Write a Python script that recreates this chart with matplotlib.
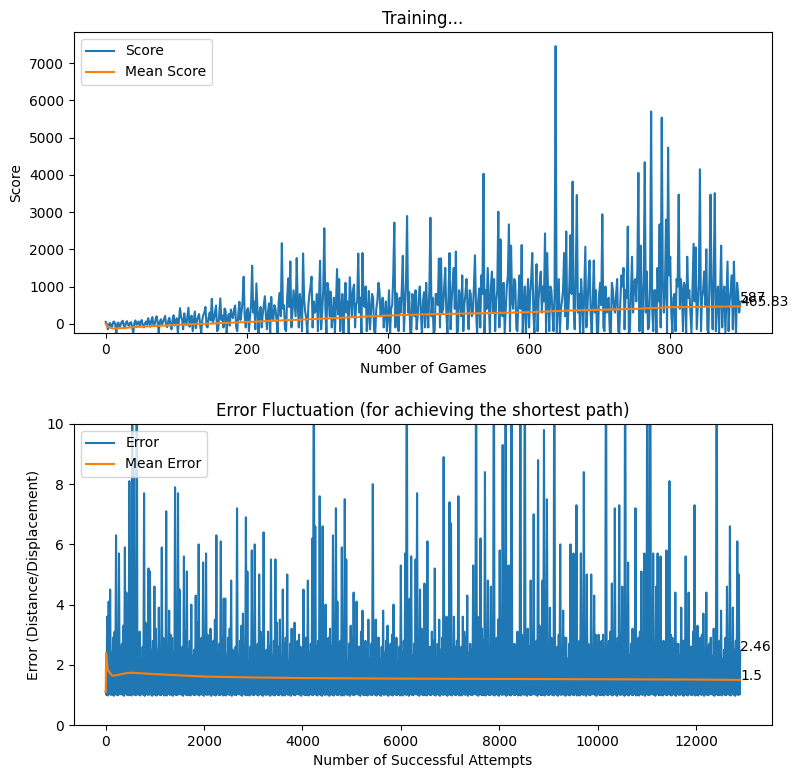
import numpy as np
import matplotlib
matplotlib.use("Agg")
import matplotlib.pyplot as plt

# Score per game (one value every ~3 games)
scores = [
    50, -150, 20, -80, 60, -250, 30, -40, 80, -120,
    70, -60, 40, -250, 90, 10, -50, 100, -100, 60,
    150, -80, 180, -30, 200, -250, 120, 40, 210, -90,
    160, -150, 225, 60, -250, 420, 100, 280, -40, 430,
    150, -200, 330, 80, 260, -250, 240, 450, -100, 300,
    670, 120, 490, -150, 680, 220, 410, -250, 260, 380,
    150, 490, -200, 590, 300, 1264, -100, 420, 200, 1558,
    600, 1084, -250, 450, 260, 739, -150, 550, 720, 120,
    400, -250, 830, 2164, 500, -200, 1220, 1674, 300, 560,
    1764, -100, 480, 1889, 320, -250, 800, 1265, 600, 350,
    -200, 1692, 300, 2565, -300, 880, 860, 250, -250, 1470,
    1200, 400, -250, 1100, 600, 1250, 200, 1050, 500, 1886,
    700, 1900, 450, -200, 880, 300, 700, -250, 600, 900,
    400, -100, 600, 200, -250, 500, 2717, 820, -200, 300,
    1826, 400, 2895, 850, -250, 600, 900, 200, 1000, -300,
    850, 1100, -100, 2850, 700, -200, 800, 1755, 1760, 400,
    1500, -250, 1900, 600, 1500, 1940, -200, 700, 1300, 500,
    1200, -150, 800, 300, 1840, -300, 950, 1300, 4030, 900,
    1500, -250, 1400, 1200, 600, 3010, 2270, 200, -250, 1000,
    2670, 2100, 400, 1100, -200, 1300, 2115, 500, -300, 1200,
    800, 1900, -250, 1600, 700, 1400, 1000, 2427, 1900, -200,
    900, -200, 7460, 500, -250, 600, 1900, 2480, 300, 2380,
    3820, -150, 3460, 800, 1200, -250, 2070, 400, 1700, -300,
    1700, 900, -250, 1100, 2940, -200, 300, 700, -300, 900,
    300, 1200, -250, 1300, 1500, 900, 2610, -200, 1800, 1100,
    600, 4055, 2100, -250, 4340, 1400, -100, 5704, -200, 900,
    1500, 2670, 5540, 300, 2800, 4730, 1800, -250, 800, 1200,
    3470, 1200, -200, 1000, 1800, 900, -250, 2150, 2050, 500,
    4150, 700, 1400, 2000, -250, 3470, -150, 3510, 700, -250,
    2100, 800, -250, 1670, 600, 1300, 1670, -300, 800, 587,
]
# scores of the games in between the ones above
scores_mid = [
    0, -30, -60, 40, -20, 10, -90, 50, -40, 20,
    -20, 30, -100, 20, -30, 60, 40, -60, 10, -30,
    40, 90, -50, 110, 20, 60, -20, 130, -60, 80,
    -30, 100, -50, 150, 70, 200, -150, 60, 190, -80,
    220, 60, -120, 180, -40, 100, 300, -60, 170, 90,
    40, 300, -200, 250, 100, -100, 350, 150, -50, 200,
    400, -100, 280, 100, 600, 200, 350, -200, 500, 300,
    -150, 400, 300, -100, 500, 200, 350, -250, 150, 500,
    100, 600, 200, 400, -150, 700, 450, -100, 900, 200,
    500, 800, -200, 650, 150, 500, 1000, -100, 300, 800,
    600, -150, 900, 400, 1100, 200, -100, 700, 500, 250,
    -200, 800, 500, 300, -250, 700, 900, -100, 600, 300,
    -250, 500, 1000, 300, -150, 800, -200, 400, 1100, 200,
    700, 300, -200, 900, 400, 1300, -100, 500, 700, 900,
    -200, 1100, 300, -250, 800, 200, -150, 700, 300, 600,
    -100, 400, 900, 200, -250, 800, 500, -100, 300, 1000,
    300, 700, -150, 1100, 400, -250, 900, 200, -200, 800,
    400, 900, 200, 1000, 400, 600, -100, 800, -250, 400,
    600, 1000, 300, -200, 900, -100, 500, 1100, 400, 1300,
    -200, 600, 1200, -150, 700, 400, -250, 1000, 600, -100,
    1200, 300, 800, -200, 1100, 300, 600, -250, 700, 1000,
    300, 800, -250, 1200, 400, 900, 200, -150, 1100, 800,
    400, 1300, 300, -250, 700, 900, -100, 1200, 300, 600,
    300, -250, 800, 500, -100, 1000, 600, -200, 1100, 400,
    800, -200, 600, 1000, -150, 700, -250, 800, 300, 1200,
    1400, -200, 800, 1100, 300, -150, 1000, 400, 900, -250,
    600, -100, 1200, 900, -250, 1300, 300, 700, -200, 1000,
    400, 900, 1100, -250, 700, 300, 1000, 600, -150, 1100,
    -200, 900, 500, -150, 1200, 800, 1300, -200, 1000, 800,
    -100, 1000, 700, -200, 900, -150, 600, 1100, 300,
]
last_game = 899

# mean score, read at a few games
mean_games = [0, 3, 10, 25, 50, 100, 150, 200, 250, 300, 350, 400, 450,
              500, 550, 600, 650, 700, 750, 800, 850, 899]
mean_scores = [0, -90, -130, -115, -80, -30, 5, 45, 90, 130, 175, 220, 250,
               270, 290, 310, 350, 375, 400, 444, 455, 465.83]

# Error: upper values, one every 30 successful attempts
err_peaks = [
    1.1, 3.6, 4.1, 4.5, 2.4, 2.9, 3.1, 6.3, 2.2, 5.7,
    2.6, 2.7, 3.3, 5.9, 4.4, 2.1, 8.1, 2.8, 15, 8.6,
    2.3, 15, 3.0, 3.1, 2.2, 2.6, 7.7, 3.4, 2.4, 5.2,
    5.1, 2.5, 2.8, 4.6, 3.2, 2.5, 3.9, 2.1, 5.9, 2.9,
    2.7, 7.1, 2.3, 3.8, 3.0, 2.9, 2.4, 7.9, 3.3, 7.7,
    4.5, 2.2, 2.6, 5.6, 3.1, 5.1, 2.5, 2.8, 4.0, 2.3,
    2.5, 4.3, 3.4, 6.0, 2.2, 2.9, 5.4, 2.6, 5.7, 3.0,
    2.6, 3.2, 2.1, 2.8, 3.5, 6.3, 2.4, 2.7, 6.1, 2.9,
    4.2, 4.2, 2.3, 2.9, 3.2, 4.8, 2.5, 2.4, 2.6, 7.2,
    2.2, 2.8, 3.3, 3.7, 2.6, 6.9, 5.1, 2.1, 2.6, 5.8,
    2.9, 6.0, 2.4, 2.7, 5.0, 3.1, 2.9, 6.4, 2.2, 2.5,
    3.1, 2.6, 5.5, 2.3, 2.8, 5.5, 3.4, 2.6, 3.5, 2.2,
    4.5, 2.7, 2.9, 5.0, 2.1, 2.7, 3.2, 2.5, 3.4, 2.3,
    2.8, 3.0, 2.6, 2.2, 4.5, 2.9, 2.9, 4.8, 2.4, 2.7,
    6.2, 15, 6.6, 2.6, 2.8, 7.6, 3.3, 6.6, 2.5, 4.0,
    2.3, 2.9, 3.2, 2.6, 6.3, 2.2, 7.2, 4.1, 2.7, 2.8,
    5.9, 2.4, 7.5, 5.5, 2.1, 2.7, 3.3, 2.9, 4.4, 2.5,
    4.1, 2.6, 2.6, 3.1, 3.8, 2.3, 2.8, 2.5, 3.5, 2.2,
    2.7, 8.0, 2.4, 3.5, 2.9, 2.9, 2.2, 2.6, 3.8, 2.4,
    2.8, 3.3, 2.3, 2.7, 3.0, 4.0, 2.5, 2.9, 2.1, 2.6,
    5.3, 2.4, 2.8, 5.7, 15, 3.0, 4.2, 5.6, 2.3, 2.7,
    5.5, 7.7, 2.5, 4.5, 3.2, 2.9, 4.7, 2.4, 6.1, 2.6,
    2.6, 3.1, 2.8, 5.2, 2.2, 2.7, 3.5, 2.5, 2.9, 8.9,
    2.4, 3.6, 3.0, 7.4, 6.7, 2.3, 3.6, 2.6, 2.8, 7.6,
    2.2, 2.6, 3.6, 3.1, 2.9, 4.3, 2.4, 2.7, 2.5, 5.3,
    2.8, 15, 3.6, 2.3, 6.2, 3.2, 2.8, 8.4, 2.6, 4.8,
    2.4, 4.6, 3.0, 15, 2.5, 2.9, 3.5, 5.8, 2.2, 9.3,
    2.7, 15, 2.4, 5.3, 3.1, 15, 2.6, 2.7, 2.3, 3.1,
    2.5, 15, 3.0, 2.9, 15, 2.4, 3.2, 2.6, 4.8, 2.2,
    7.0, 2.7, 2.8, 8.8, 3.3, 2.6, 4.8, 9.8, 2.4, 7.5,
    2.3, 3.9, 2.9, 2.7, 15, 2.5, 2.6, 3.0, 6.0, 2.4,
    3.8, 2.9, 2.9, 2.2, 2.7, 6.0, 2.6, 5.7, 2.3, 7.3,
    2.5, 2.8, 5.7, 3.1, 8.4, 2.4, 5.0, 2.7, 2.6, 5.0,
    2.2, 4.3, 3.0, 2.7, 3.0, 2.5, 2.8, 3.0, 2.3, 15,
    2.6, 2.8, 3.1, 4.7, 2.4, 7.2, 2.7, 2.9, 7.3, 2.2,
    4.6, 2.5, 15, 2.9, 5.4, 2.3, 2.7, 3.2, 2.6, 7.2,
    2.4, 2.9, 3.1, 5.1, 2.5, 5.7, 2.8, 15, 3.0, 15,
    2.3, 5.7, 2.6, 4.6, 5.7, 2.9, 5.6, 2.4, 2.8, 2.6,
    5.8, 2.2, 8.1, 3.0, 2.9, 2.5, 4.4, 2.7, 2.7, 2.3,
    3.9, 2.8, 2.8, 5.6, 2.4, 4.4, 2.6, 2.6, 3.1, 7.3,
    2.5, 3.3, 2.4, 2.9, 3.0, 3.7, 2.3, 4.4, 2.6, 2.7,
    2.9, 2.3, 3.2, 2.6, 15, 2.4, 2.8, 3.8, 2.2, 2.5,
    2.9, 4.6, 2.4, 6.6, 2.7, 3.9, 2.5, 2.8, 6.1, 5.0,
    2.46,
]
# Error: lower values in between (the floor of the band, near 1)
err_floor = [
    1.0, 0.98, 1.03, 1.0, 1.01, 0.97, 1.02, 1.0, 0.99, 1.04,
    1.02, 1.0, 0.97, 1.05, 1.0, 0.99, 1.01, 0.98, 1.03, 1.0,
    0.99, 1.03, 1.0, 0.98, 1.06, 1.0, 0.97, 1.02, 1.0, 1.01,
    1.01, 0.97, 1.02, 1.0, 0.98, 1.04, 1.0, 0.99, 1.03, 0.98,
    1.0, 0.98, 1.03, 1.0, 1.01, 0.97, 1.02, 1.0, 0.99, 1.04,
    1.02, 1.0, 0.97, 1.05, 1.0, 0.99, 1.01, 0.98, 1.03, 1.0,
    0.99, 1.03, 1.0, 0.98, 1.06, 1.0, 0.97, 1.02, 1.0, 1.01,
    1.01, 0.97, 1.02, 1.0, 0.98, 1.04, 1.0, 0.99, 1.03, 0.98,
    1.0, 0.98, 1.03, 1.0, 1.01, 0.97, 1.02, 1.0, 0.99, 1.04,
    1.02, 1.0, 0.97, 1.05, 1.0, 0.99, 1.01, 0.98, 1.03, 1.0,
    0.99, 1.03, 1.0, 0.98, 1.06, 1.0, 0.97, 1.02, 1.0, 1.01,
    1.01, 0.97, 1.02, 1.0, 0.98, 1.04, 1.0, 0.99, 1.03, 0.98,
    1.0, 0.98, 1.03, 1.0, 1.01, 0.97, 1.02, 1.0, 0.99, 1.04,
    1.02, 1.0, 0.97, 1.05, 1.0, 0.99, 1.01, 0.98, 1.03, 1.0,
    0.99, 1.03, 1.0, 0.98, 1.06, 1.0, 0.97, 1.02, 1.0, 1.01,
    1.01, 0.97, 1.02, 1.0, 0.98, 1.04, 1.0, 0.99, 1.03, 0.98,
    1.0, 0.98, 1.03, 1.0, 1.01, 0.97, 1.02, 1.0, 0.99, 1.04,
    1.02, 1.0, 0.97, 1.05, 1.0, 0.99, 1.01, 0.98, 1.03, 1.0,
    0.99, 1.03, 1.0, 0.98, 1.06, 1.0, 0.97, 1.02, 1.0, 1.01,
    1.01, 0.97, 1.02, 1.0, 0.98, 1.04, 1.0, 0.99, 1.03, 0.98,
    1.0, 0.98, 1.03, 1.0, 1.01, 0.97, 1.02, 1.0, 0.99, 1.04,
    1.02, 1.0, 0.97, 1.05, 1.0, 0.99, 1.01, 0.98, 1.03, 1.0,
    0.99, 1.03, 1.0, 0.98, 1.06, 1.0, 0.97, 1.02, 1.0, 1.01,
    1.01, 0.97, 1.02, 1.0, 0.98, 1.04, 1.0, 0.99, 1.03, 0.98,
    1.0, 0.98, 1.03, 1.0, 1.01, 0.97, 1.02, 1.0, 0.99, 1.04,
    1.02, 1.0, 0.97, 1.05, 1.0, 0.99, 1.01, 0.98, 1.03, 1.0,
    0.99, 1.03, 1.0, 0.98, 1.06, 1.0, 0.97, 1.02, 1.0, 1.01,
    1.01, 0.97, 1.02, 1.0, 0.98, 1.04, 1.0, 0.99, 1.03, 0.98,
    1.0, 0.98, 1.03, 1.0, 1.01, 0.97, 1.02, 1.0, 0.99, 1.04,
    1.02, 1.0, 0.97, 1.05, 1.0, 0.99, 1.01, 0.98, 1.03, 1.0,
    0.99, 1.03, 1.0, 0.98, 1.06, 1.0, 0.97, 1.02, 1.0, 1.01,
    1.01, 0.97, 1.02, 1.0, 0.98, 1.04, 1.0, 0.99, 1.03, 0.98,
    1.0, 0.98, 1.03, 1.0, 1.01, 0.97, 1.02, 1.0, 0.99, 1.04,
    1.02, 1.0, 0.97, 1.05, 1.0, 0.99, 1.01, 0.98, 1.03, 1.0,
    0.99, 1.03, 1.0, 0.98, 1.06, 1.0, 0.97, 1.02, 1.0, 1.01,
    1.01, 0.97, 1.02, 1.0, 0.98, 1.04, 1.0, 0.99, 1.03, 0.98,
    1.0, 0.98, 1.03, 1.0, 1.01, 0.97, 1.02, 1.0, 0.99, 1.04,
    1.02, 1.0, 0.97, 1.05, 1.0, 0.99, 1.01, 0.98, 1.03, 1.0,
    0.99, 1.03, 1.0, 0.98, 1.06, 1.0, 0.97, 1.02, 1.0, 1.01,
    1.01, 0.97, 1.02, 1.0, 0.98, 1.04, 1.0, 0.99, 1.03, 0.98,
    1.0, 0.98, 1.03, 1.0, 1.01, 0.97, 1.02, 1.0, 0.99, 1.04,
    1.02, 1.0, 0.97, 1.05, 1.0, 0.99, 1.01, 0.98, 1.03, 1.0,
    0.99, 1.03, 1.0, 0.98, 1.06, 1.0, 0.97, 1.02, 1.0, 1.01,
]
last_attempt = 12900

mean_err_attempts = [0, 8, 40, 90, 130, 200, 300, 400, 530, 700, 1000, 1500,
                     2000, 3000, 4000, 5000, 6000, 8000, 10000, 12000, 12900]
mean_errors = [1.1, 2.39, 1.85, 1.72, 1.64, 1.65, 1.68, 1.72, 1.74, 1.72, 1.69,
               1.65, 1.61, 1.58, 1.56, 1.55, 1.54, 1.53, 1.52, 1.51, 1.5]

# put the in-between values in their places
score_series = np.empty(len(scores) + len(scores_mid))
score_series[0::2] = scores
score_series[1::2] = scores_mid
games = np.linspace(0, last_game, len(score_series))

error_series = np.empty(len(err_peaks) + len(err_floor))
error_series[0::2] = err_peaks
error_series[1::2] = err_floor
attempts = np.linspace(0, last_attempt, len(error_series))

fig, (ax1, ax2) = plt.subplots(2, 1, figsize=(7.98, 7.78), dpi=100)
fig.subplots_adjust(left=0.0927, right=0.9674, bottom=0.0681, top=0.9589, hspace=0.302)

# top: score while training
ax1.plot(games, score_series, label="Score")
ax1.plot(mean_games, mean_scores, label="Mean Score")
ax1.set_title("Training...")
ax1.set_xlabel("Number of Games")
ax1.set_ylabel("Score")
ax1.set_ylim(-250, 7840)
ax1.text(games[-1], scores[-1], str(scores[-1]))
ax1.text(mean_games[-1], mean_scores[-1], str(mean_scores[-1]))
ax1.legend(loc="upper left")

# bottom: error
ax2.plot(attempts, error_series, label="Error")
ax2.plot(mean_err_attempts, mean_errors, label="Mean Error")
ax2.set_title("Error Fluctuation (for achieving the shortest path)")
ax2.set_xlabel("Number of Successful Attempts")
ax2.set_ylabel("Error (Distance/Displacement)")
ax2.set_ylim(0, 10)
ax2.text(attempts[-1], err_peaks[-1], str(err_peaks[-1]))
ax2.text(mean_err_attempts[-1], mean_errors[-1], str(mean_errors[-1]))
ax2.legend(loc="upper left")

plt.savefig("out.png")
